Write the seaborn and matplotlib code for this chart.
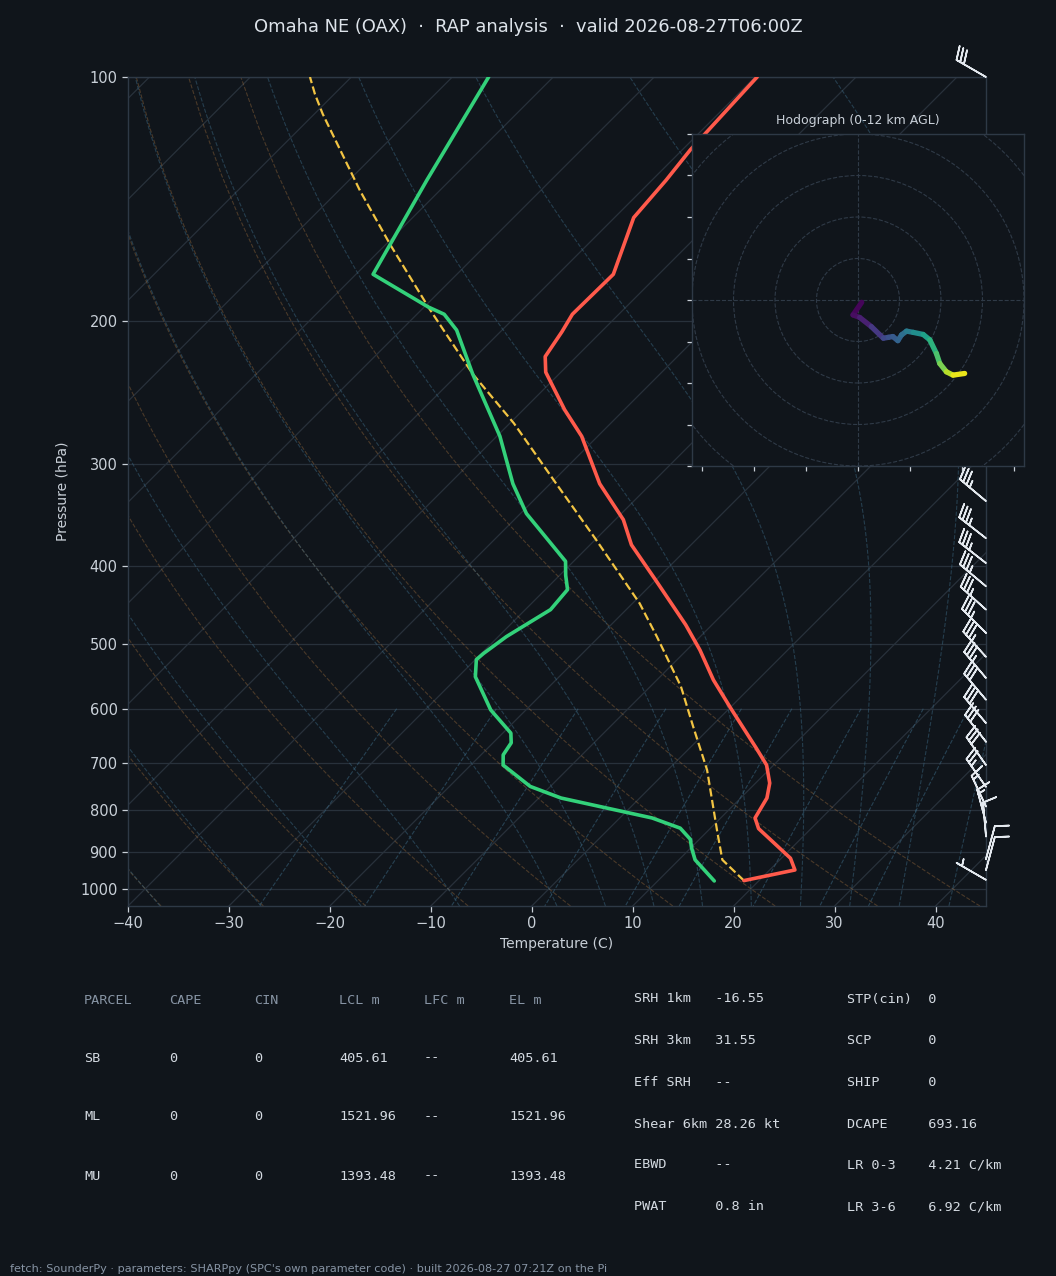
import numpy as np
import matplotlib
matplotlib.use("Agg")
import matplotlib.pyplot as plt
import seaborn as sns
from matplotlib.collections import LineCollection
from matplotlib.ticker import FixedLocator, NullLocator
from matplotlib.patches import Circle

# ---------------- data ----------------
temp_p = [977, 948, 917, 843, 818, 773, 741, 704, 671, 599, 553, 508, 473, 416, 377, 351, 317,
          277, 257, 231, 221, 206, 196, 175, 149, 134, 123, 100]
temp_c = [18.5, 22.5, 20.9, 14.8, 13.4, 12.6, 11.4, 9.3, 6.6, 0.1, -4.4, -8.7, -12.6, -20.1, -25.9,
          -29.2, -35.1, -41.6, -45.9, -51.5, -53.1, -53.9, -54.6, -54.5, -58.1, -58.6, -59.2, -59.8]

dew_p = [978, 921, 891, 869, 842, 818, 773, 748, 704, 684, 661, 643, 602, 548, 522, 513, 489, 453,
         428, 411, 395, 345, 317, 277, 232, 205, 196, 192, 175, 134, 100]
dew_c = [15.6, 11.6, 10.1, 9.1, 7.0, 3.2, -7.8, -12.0, -16.8, -17.8, -18.2, -19.2, -23.5, -28.3,
         -29.9, -29.8, -29.2, -27.5, -27.8, -29.4, -30.8, -39.4, -43.7, -49.7, -58.6, -64.5, -67.3,
         -69.6, -78.3, -82.3, -86.4]

parcel_p = [977, 921, 846, 714, 631, 563, 489, 445, 371, 317, 267, 232, 193, 161, 138, 131, 111,
            105, 100]
parcel_c = [18.5, 14.3, 10.8, 3.9, -1.8, -7.0, -14.3, -19.3, -30.0, -39.4, -49.6, -58.6, -69.3,
            -79.5, -87.9, -90.6, -99.2, -101.9, -104.1]

barb_p = [100, 150, 200, 250, 300, 333, 370, 397, 424, 453, 484, 518, 550, 585, 625, 659, 704,
          749, 792, 829, 862, 919, 948, 975]
barb_spd = [30, 45, 55, 50, 40, 35, 35, 35, 35, 35, 35, 35, 35, 30, 30, 30, 30, 25, 15, 15, 10,
            10, 10, 5]
barb_dir = [300, 300, 300, 300, 305, 310, 308, 308, 310, 312, 315, 318, 320, 320, 320, 322, 325,
            325, 335, 345, 355, 15, 15, 300]

hodo_u = [0.9, -1.2, 0.4, 3.2, 6.1, 7.3, 8.4, 9.6, 10.5, 11.7, 13.3, 15.7, 17.3, 18.9, 19.7,
          21.3, 22.9, 25.7]
hodo_v = [-0.55, -3.6, -4.2, -6.4, -9.2, -9.0, -8.8, -9.8, -8.4, -7.5, -7.8, -8.3, -9.6, -12.9,
          -15.3, -17.3, -18.1, -17.7]
hodo_z = [0, 0.3, 0.6, 1.5, 2.4, 2.8, 3.2, 3.6, 4.0, 4.6, 5.4, 6.4, 7.2, 8.2, 9.0, 10.2, 11.2, 12.0]

x_ticks = [-40, -30, -20, -10, 0, 10, 20, 30, 40]
p_ticks = [100, 200, 300, 400, 500, 600, 700, 800, 900, 1000]
dry_t0 = [-40, -30, -20, -10, 0, 10, 20, 30, 40]
moist_t0 = [-40, -30, -20, -10, 0, 5, 10, 15, 20, 25, 30, 35, 40, 45]
mix_w = [0.0004, 0.001, 0.002, 0.004, 0.007, 0.01, 0.016, 0.024, 0.032]
isotherms = list(range(-120, 41, 10))
hodo_rings = [10, 20, 30, 40, 50]

title = "Omaha NE (OAX)  \u00b7  RAP analysis  \u00b7  valid 2026-08-27T06:00Z"
parcel_head = ["PARCEL", "CAPE", "CIN", "LCL m", "LFC m", "EL m"]
parcel_rows = [["SB", "0", "0", "405.61", "--", "405.61"],
               ["ML", "0", "0", "1521.96", "--", "1521.96"],
               ["MU", "0", "0", "1393.48", "--", "1393.48"]]
params_left = [("SRH 1km", "-16.55"), ("SRH 3km", "31.55"), ("Eff SRH", "--"),
               ("Shear 6km", "28.26 kt"), ("EBWD", "--"), ("PWAT", "0.8 in")]
params_right = [("STP(cin)", "0"), ("SCP", "0"), ("SHIP", "0"), ("DCAPE", "693.16"),
                ("LR 0-3", "4.21 C/km"), ("LR 3-6", "6.92 C/km")]
footer = ("fetch: SounderPy \u00b7 parameters: SHARPpy (SPC's own parameter code) \u00b7 "
          "built 2026-08-27 07:21Z on the Pi")

# ---------------- style ----------------
BG = '#10151b'
FG = '#d5dbe2'
DIM = '#8794a4'
SPINE = '#2e3946'
GRID = '#28313b'
sns.set_theme(style="dark")
plt.rcParams['font.family'] = ['DejaVu Sans']
plt.rcParams.update({'figure.facecolor': BG, 'axes.facecolor': BG, 'savefig.facecolor': BG})

W, H = 1056, 1276
fig = plt.figure(figsize=(W / 100, H / 100), dpi=100)

L, R, T, B = 128, 986, 77, 906
ax = fig.add_axes([L / W, 1 - B / H, (R - L) / W, (B - T) / H])
ax.set_facecolor(BG)
XMIN, XMAX = -40, 45
PBOT, PTOP = 1050, 100
SKEW = (XMAX - XMIN) * (B - T) / (R - L)


def yfrac(p):
    p = np.asarray(p, dtype=float)
    return np.log(PBOT / p) / np.log(PBOT / PTOP)


def skx(t, p):
    return np.asarray(t, dtype=float) + SKEW * yfrac(p)


ax.set_yscale('log')
ax.set_ylim(PBOT, PTOP)
ax.set_xlim(XMIN, XMAX)

# isobars
for pp in p_ticks:
    ax.axhline(pp, color=GRID, lw=0.9, zorder=1)
# isotherms
for tt in isotherms:
    ax.plot(skx([tt, tt], [PBOT, PTOP]), [PBOT, PTOP], color=GRID, lw=0.9, zorder=1)

# dry adiabats
pgrid = np.linspace(PBOT, PTOP, 60)
for t0 in dry_t0:
    tk = (t0 + 273.15) * (pgrid / 1000.0) ** 0.2857 - 273.15
    ax.plot(skx(tk, pgrid), pgrid, color='#a8743f', alpha=0.38, lw=0.8, ls='--', zorder=1)


# moist adiabats (pseudo-adiabatic lapse integration)
def dTdp(t, p):
    es = 6.112 * np.exp(17.67 * (t - 273.15) / (t - 29.65))
    rs = 0.622 * es / (p - es)
    return (287.05 * t + 2.501e6 * rs) / (1005.7 + 2.501e6 ** 2 * rs * 0.622 / (287.05 * t * t)) / p


def integrate(t0k, p_end, step):
    ps = [1000.0]
    ts = [t0k]
    p, t = 1000.0, t0k
    n = int(round(abs(p_end - 1000.0) / abs(step)))
    for _ in range(n):
        k1 = dTdp(t, p)
        k2 = dTdp(t + step * k1 / 2, p + step / 2)
        k3 = dTdp(t + step * k2 / 2, p + step / 2)
        k4 = dTdp(t + step * k3, p + step)
        t = t + step * (k1 + 2 * k2 + 2 * k3 + k4) / 6
        p = p + step
        ps.append(p)
        ts.append(t)
    return np.array(ps), np.array(ts)


for t0 in moist_t0:
    pu, tu = integrate(t0 + 273.15, 100.0, -5.0)
    pdn, tdn = integrate(t0 + 273.15, 1050.0, 5.0)
    pp_ = np.concatenate([pdn[::-1], pu[1:]])
    tt_ = np.concatenate([tdn[::-1], tu[1:]]) - 273.15
    ax.plot(skx(tt_, pp_), pp_, color='#3a6680', alpha=0.5, lw=0.8, ls='--', zorder=1)

# mixing ratio lines
pmix = np.linspace(600, PBOT, 40)
for w in mix_w:
    e = w * pmix / (0.622 + w)
    ln = np.log(e / 6.112)
    td = 243.5 * ln / (17.67 - ln)
    ax.plot(skx(td, pmix), pmix, color='#3a6680', alpha=0.55, lw=0.8, ls='--', zorder=1)

# profiles
sns.lineplot(x=skx(parcel_c, parcel_p), y=np.array(parcel_p, float), sort=False, estimator=None,
             color='#f2c443', lw=1.6, linestyle='--', ax=ax, zorder=3)
sns.lineplot(x=skx(temp_c, temp_p), y=np.array(temp_p, float), sort=False, estimator=None,
             color='#ff5a4b', lw=2.6, ax=ax, zorder=4)
sns.lineplot(x=skx(dew_c, dew_p), y=np.array(dew_p, float), sort=False, estimator=None,
             color='#33d17a', lw=2.6, ax=ax, zorder=4)

# wind barbs at right edge
spd = np.array(barb_spd, float)
dr = np.deg2rad(barb_dir)
bu = -spd * np.sin(dr)
bv = -spd * np.cos(dr)
ax.barbs(np.full(len(barb_p), float(XMAX)), np.array(barb_p, float), bu, bv, length=7,
         color='#e4e9ef', lw=1.2, clip_on=False, zorder=6)

# axes cosmetics
ax.xaxis.set_major_locator(FixedLocator(x_ticks))
ax.set_yticks(p_ticks)
ax.set_yticklabels([str(v) for v in p_ticks])
ax.yaxis.set_minor_locator(NullLocator())
ax.set_xlim(XMIN, XMAX)
ax.set_ylim(PBOT, PTOP)
ax.tick_params(colors='#c9d0d8', labelsize=10.5, length=4, width=0.9, direction='out',
               left=True, bottom=True)
ax.set_xlabel('Temperature (C)', color='#c9d0d8', fontsize=10, labelpad=4)
ax.set_ylabel('Pressure (hPa)', color='#c9d0d8', fontsize=10, labelpad=8)
ax.grid(False)
for s in ax.spines.values():
    s.set_color(SPINE)
    s.set_linewidth(1.0)

# ---------------- hodograph ----------------
hx0, hy0, hs = 692, 134, 332
hax = fig.add_axes([hx0 / W, 1 - (hy0 + hs) / H, hs / W, hs / H])
hax.set_facecolor(BG)
hax.set_xlim(-40, 40)
hax.set_ylim(-40, 40)
for r in hodo_rings:
    hax.add_patch(Circle((0, 0), r, fill=False, ls='--', lw=0.8, color='#2f3a47', zorder=1))
hax.axhline(0, color='#2f3a47', ls='--', lw=0.8, zorder=1)
hax.axvline(0, color='#2f3a47', ls='--', lw=0.8, zorder=1)
pts = np.column_stack([hodo_u, hodo_v]).reshape(-1, 1, 2)
segs = np.concatenate([pts[:-1], pts[1:]], axis=1)
lc = LineCollection(segs, cmap='viridis', norm=plt.Normalize(0, 12), lw=3.8, zorder=3,
                    capstyle='round', joinstyle='round')
lc.set_array(np.array(hodo_z[:-1]) * 0.5 + np.array(hodo_z[1:]) * 0.5)
hax.add_collection(lc)
hax.set_xticks([-37.5, -25, -12.5, 0, 12.5, 25, 37.5])
hax.set_yticks([-40, -30, -20, -10, 0, 10, 20, 30, 40])
hax.tick_params(labelleft=False, labelbottom=False, colors='#c9d0d8', length=3.5, width=0.9,
                direction='out', left=True, bottom=True)
hax.grid(False)
for s in hax.spines.values():
    s.set_color(SPINE)
    s.set_linewidth(1.0)
hax.set_title('Hodograph (0-12 km AGL)', color='#c9d0d8', fontsize=9, pad=7)

# ---------------- texts ----------------
fig.text(0.5, 1 - 27 / H, title, ha='center', va='center', fontsize=12.9, color='#dde3ea')

mono = 'DejaVu Sans Mono'
col_x = [84, 169, 254, 339, 424, 509]
row_y = [1000, 1058, 1117, 1176]
for cx, txt in zip(col_x, parcel_head):
    fig.text(cx / W, 1 - row_y[0] / H, txt, family=mono, fontsize=9.7, color=DIM,
             ha='left', va='center')
for ry, row in zip(row_y[1:], parcel_rows):
    for cx, txt in zip(col_x, row):
        fig.text(cx / W, 1 - ry / H, txt, family=mono, fontsize=9.7, color=FG,
                 ha='left', va='center')

prow_y = [999, 1041, 1082, 1124, 1165, 1207]
for ry, (lab, val) in zip(prow_y, params_left):
    fig.text(634 / W, 1 - ry / H, f"{lab:<10}{val}", family=mono, fontsize=9.7, color=FG,
             ha='left', va='center')
for ry, (lab, val) in zip(prow_y, params_right):
    fig.text(847 / W, 1 - ry / H, f"{lab:<10}{val}", family=mono, fontsize=9.7, color=FG,
             ha='left', va='center')

fig.text(10 / W, 1 - 1269 / H, footer, fontsize=8.15, color=DIM, ha='left', va='center')

fig.savefig('out.png', dpi=100, facecolor=BG)
